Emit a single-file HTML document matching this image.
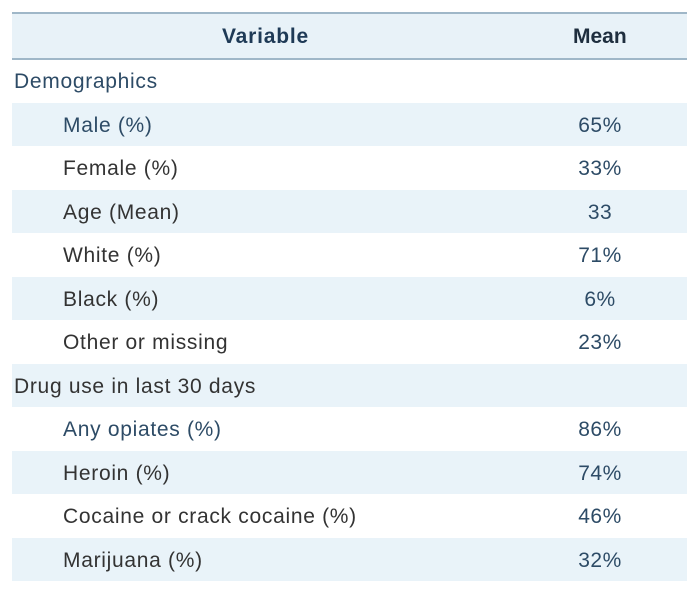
<!DOCTYPE html>
<html><head><style>
body{margin:0;background:#fff;width:700px;height:592px;overflow:hidden;font-family:"Liberation Sans",sans-serif;}
.t{position:absolute;left:12px;top:12px;width:675px;}
.h{position:absolute;left:0;top:0;width:675px;height:44px;background:#e8f2f8;border-top:2px solid #9fb7c8;border-bottom:2px solid #9fb7c8;}
.r{position:absolute;left:0;width:675px;height:43px;}
.s{background:#e9f3f9;}
.l{position:absolute;top:11px;font-size:21px;letter-spacing:0.7px;color:#333;white-space:nowrap;}
.v{position:absolute;top:11px;left:548px;width:80px;text-align:center;font-size:21px;letter-spacing:0.5px;color:#2d4b66;}
.b{color:#2d4b66;}
</style></head><body>
<div class="t">
<div class="h"><div style="position:absolute;left:210px;top:11px;font-size:21px;letter-spacing:0.8px;font-weight:bold;color:#1e3a56">Variable</div><div style="position:absolute;left:561px;top:11px;font-size:21px;font-weight:bold;color:#1e2e3e">Mean</div></div>
<div class="r" style="top:47px"><div class="l b" style="left:2px">Demographics</div></div>
<div class="r s" style="top:91px"><div class="l b" style="left:51px">Male (%)</div><div class="v">65%</div></div>
<div class="r" style="top:134px"><div class="l" style="left:51px">Female (%)</div><div class="v">33%</div></div>
<div class="r s" style="top:178px"><div class="l" style="left:51px">Age (Mean)</div><div class="v">33</div></div>
<div class="r" style="top:221px"><div class="l" style="left:51px">White (%)</div><div class="v">71%</div></div>
<div class="r s" style="top:265px"><div class="l" style="left:51px">Black (%)</div><div class="v">6%</div></div>
<div class="r" style="top:308px"><div class="l" style="left:51px">Other or missing</div><div class="v">23%</div></div>
<div class="r s" style="top:352px"><div class="l" style="left:2px">Drug use in last 30 days</div></div>
<div class="r" style="top:395px"><div class="l b" style="left:51px">Any opiates (%)</div><div class="v">86%</div></div>
<div class="r s" style="top:439px"><div class="l" style="left:51px">Heroin (%)</div><div class="v">74%</div></div>
<div class="r" style="top:482px"><div class="l" style="left:51px">Cocaine or crack cocaine (%)</div><div class="v">46%</div></div>
<div class="r s" style="top:526px"><div class="l" style="left:51px">Marijuana (%)</div><div class="v">32%</div></div>
</div>
</body></html>
